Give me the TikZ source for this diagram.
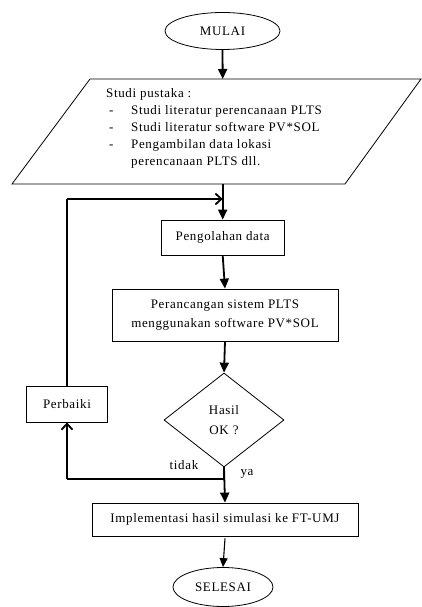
\documentclass[tikz,border=0pt]{standalone}
\usepackage{fontspec}
\setmainfont[LetterSpace=5]{Liberation Serif}
\usetikzlibrary{shapes.geometric,arrows.meta}
\tikzset{
  box/.style={draw, line width=0.8pt, rectangle, inner sep=0pt, align=center},
  term/.style={draw, line width=0.8pt, ellipse, inner sep=0pt},
  dec/.style={draw, line width=0.8pt, diamond, inner sep=0pt, align=center},
  flow/.style={line width=1.8pt, -{Triangle[width=9pt,length=10pt]}},
  thinflow/.style={line width=1.1pt, -{Triangle[width=8pt,length=9pt]}},
  back/.style={line width=1.8pt, -{Straight Barb[width=11pt,length=6pt,line width=1.8pt]}},
  lbl/.style={inner sep=0pt}
}
\begin{document}
\begin{tikzpicture}[x=1pt,y=-1pt,font=\fontsize{13}{17}\selectfont]
\useasboundingbox (0,0) rectangle (422,607);
% start
\node[term, minimum width=115pt, minimum height=37pt] (mulai) at (222.5,31) {MULAI};
% parallelogram
\coordinate (pTL) at (90,79);
\coordinate (pTR) at (421,79);
\coordinate (pBR) at (345,184);
\coordinate (pBL) at (12,184);
\draw[line width=0.8pt] (pTL) -- (pTR) -- (pBR) -- (pBL) -- cycle;
\coordinate (pTop) at (222.7,79);
\coordinate (pBot) at (222.7,184);
\node[anchor=north west, inner sep=0pt] (studi) at (106,85.5) {%
\begin{tabular}{@{}p{25pt}@{}l@{}}
\multicolumn{2}{@{}l}{Studi pustaka :}\\
\hspace*{3pt}- & Studi literatur perencanaan PLTS\\
\hspace*{3pt}- & Studi literatur software PV*SOL\\
\hspace*{3pt}- & Pengambilan data lokasi\\
 & perencanaan PLTS dll.
\end{tabular}};
% boxes
\node[box, minimum width=123pt, minimum height=35pt] (olah) at (222.7,237.5) {Pengolahan data};
\node[box, minimum width=226pt, minimum height=52pt] (rancang) at (225,315) {Perancangan sistem PLTS\\[2pt]menggunakan software PV*SOL};
\node[dec, minimum width=120pt, minimum height=94pt] (ok) at (224,420) {Hasil\\[3pt]OK ?};
\node[box, minimum width=81pt, minimum height=36pt] (perbaiki) at (67,404) {Perbaiki};
\node[box, minimum width=266pt, minimum height=33pt] (impl) at (225,519.5) {Implementasi hasil simulasi ke FT-UMJ};
\node[term, minimum width=100pt, minimum height=39pt] (selesai) at (223,587) {SELESAI};
% helper coordinates
\coordinate (fbTop) at (67,199);
\coordinate (fbJoin) at (222.7,199);
\coordinate (noTurn) at (224,479);
\coordinate (noLeft) at (67,479);
% connectors
\draw[flow] (mulai.south) -- (pTop);
\draw[flow] (pBot) -- (olah.north);
\draw[line width=1.1pt] (perbaiki.north) -- (fbTop);
\draw[back] (fbTop) -- (fbJoin);
\draw[flow] (olah.south) -- (rancang.north);
\draw[flow] (rancang.south) -- (ok.north);
\draw[flow] (ok.south) -- (impl.north);
\draw[line width=1.3pt] (ok.south) -- (noTurn) -- (noLeft);
\draw[back] (noLeft) -- (perbaiki.south);
\draw[thinflow] ([yshift=-2pt]impl.south) -- (selesai.north);
% labels
\node[lbl] (tidak) at (184,465) {tidak};
\node[lbl] (ya) at (247,474) {ya};
\end{tikzpicture}
\end{document}
